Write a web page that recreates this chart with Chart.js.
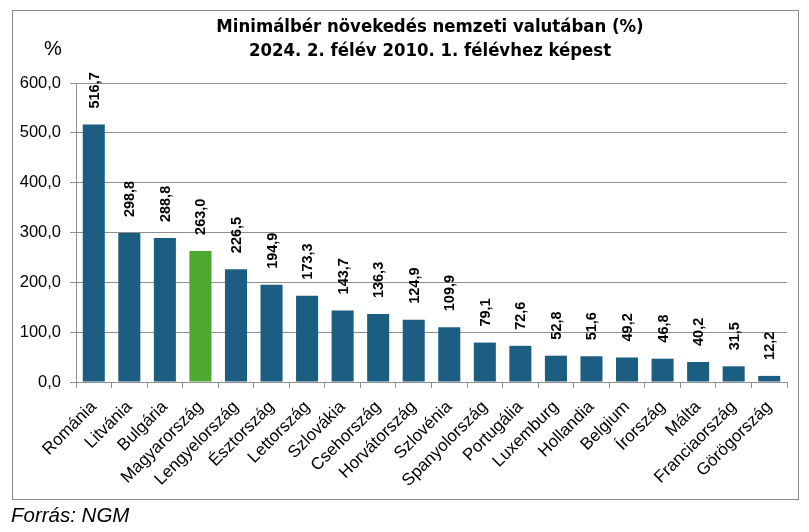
<!DOCTYPE html>
<html>
<head>
<meta charset="utf-8">
<script src="https://cdn.jsdelivr.net/npm/chart.js@4.4.1/dist/chart.umd.min.js"></script>
<style>
  html, body { margin: 0; padding: 0; background: #fff; }
  #wrap { width: 809px; height: 532px; position: relative; }
</style>
</head>
<body>
<div id="wrap"><canvas id="WageChart" width="809" height="532"></canvas></div>
<script>
// data
var countries = ["Románia", "Litvánia", "Bulgária", "Magyarország", "Lengyelország", "Észtország",
  "Lettország", "Szlovákia", "Csehország", "Horvátország", "Szlovénia", "Spanyolország",
  "Portugália", "Luxemburg", "Hollandia", "Belgium", "Írország", "Málta", "Franciaország", "Görögország"];
var growth = [516.7, 298.8, 288.8, 263.0, 226.5, 194.9, 173.3, 143.7, 136.3, 124.9, 109.9,
  79.1, 72.6, 52.8, 51.6, 49.2, 46.8, 40.2, 31.5, 12.2];
var highlight = "Magyarország";
var titleLines = ["Minimálbér növekedés nemzeti valutában (%)", "2024. 2. félév 2010. 1. félévhez képest"];
var unitLabel = "%";
var sourceText = "Forrás: NGM";

var BLUE = "#1b5e82";
var GREEN = "#4ea72e";
var GRID = "#8f8f8f";

function fmt(v) {
  return v.toFixed(1).replace(".", ",");
}

var barColors = countries.map(function (c) { return c === highlight ? GREEN : BLUE; });

// frame, title, unit and source text
var decorPlugin = {
  id: "decor",
  beforeDraw: function (chart) {
    var ctx = chart.ctx;
    ctx.save();
    ctx.fillStyle = "#fff";
    ctx.fillRect(0, 0, chart.width, chart.height);
    ctx.strokeStyle = "#8a8a8a";
    ctx.lineWidth = 1;
    ctx.strokeRect(12.5, 10.5, 786, 489);
    ctx.restore();
  },
  afterDraw: function (chart) {
    var ctx = chart.ctx;
    ctx.save();
    ctx.fillStyle = "#000";
    ctx.textAlign = "center";
    ctx.textBaseline = "middle";
    ctx.font = "bold 18.4px 'Liberation Sans Narrow', 'DejaVu Sans Condensed', sans-serif";
    ctx.fillText(titleLines[0], 430, 27);
    ctx.fillText(titleLines[1], 430, 51);
    ctx.font = "20px 'Liberation Sans', Arial, sans-serif";
    ctx.fillText(unitLabel, 53, 49);
    ctx.textAlign = "left";
    ctx.font = "italic 20.5px 'Liberation Sans', Arial, sans-serif";
    ctx.fillText(sourceText, 11, 516);
    ctx.restore();
  }
};

// rotated value labels above the bars
var valueLabels = {
  id: "valueLabels",
  afterDatasetsDraw: function (chart) {
    var ctx = chart.ctx;
    var meta = chart.getDatasetMeta(0);
    ctx.save();
    ctx.fillStyle = "#000";
    ctx.font = "bold 14.5px 'Liberation Sans', Arial, sans-serif";
    ctx.textAlign = "left";
    ctx.textBaseline = "middle";
    meta.data.forEach(function (bar, i) {
      ctx.save();
      ctx.translate(bar.x + 1, bar.y - 16);
      ctx.rotate(-Math.PI / 2);
      ctx.fillText(fmt(growth[i]), 0, 0);
      ctx.restore();
    });
    ctx.restore();
  }
};

var ctx = document.getElementById("WageChart");
var config = {
  type: "bar",
  data: {
    labels: countries,
    datasets: [{
      data: growth,
      backgroundColor: barColors,
      barPercentage: 0.62,
      categoryPercentage: 1.0
    }]
  },
  options: {
    responsive: false,
    animation: false,
    layout: { padding: { left: 0, top: 83, right: 22, bottom: 0 } },
    plugins: {
      legend: { display: false },
      title: { display: false },
      tooltip: { enabled: false }
    },
    scales: {
      x: {
        offset: true,
        grid: { display: true, drawOnChartArea: false, drawTicks: true, tickLength: 6, color: GRID, offset: true },
        border: { color: GRID },
        ticks: {
          color: "#000",
          font: { family: "'Liberation Sans', Arial, sans-serif", size: 17 },
          minRotation: 45,
          maxRotation: 45,
          autoSkip: false,
          padding: 9
        },
        afterFit: function (scale) { scale.height = 150; }
      },
      y: {
        min: 0,
        max: 600,
        ticks: {
          stepSize: 100,
          color: "#000",
          font: { family: "'Liberation Sans', Arial, sans-serif", size: 16.5 },
          padding: 9,
          callback: function (v) { return fmt(v); }
        },
        grid: { color: GRID, tickLength: 6 },
        border: { color: GRID },
        afterFit: function (scale) { scale.width = 76; }
      }
    }
  },
  plugins: [decorPlugin, valueLabels]
};
var myChart = new Chart(ctx, config);
</script>
</body>
</html>
